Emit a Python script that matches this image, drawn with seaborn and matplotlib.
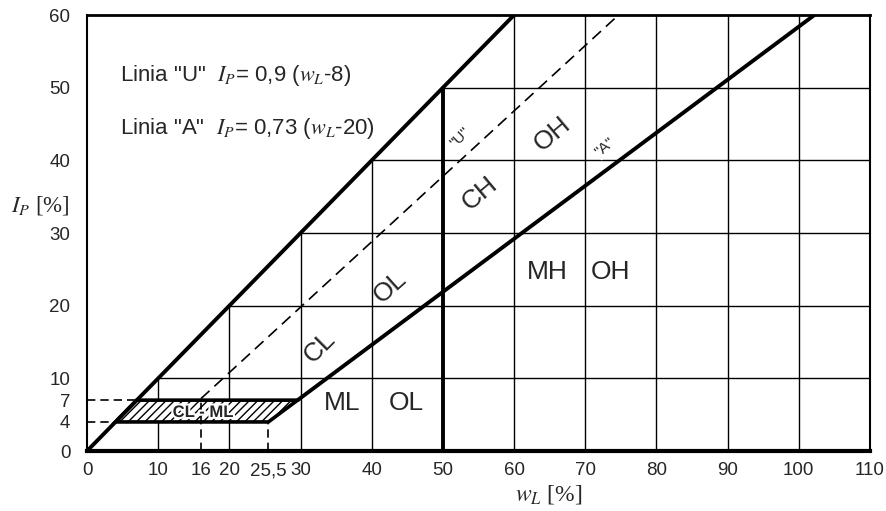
import matplotlib.pyplot as plt
import matplotlib.patheffects as pe
import numpy as np
import pandas as pd
import seaborn as sns

# axis ticks of the plasticity chart
x_ticks = [0, 10, 16, 20, 25.5, 30, 40, 50, 60, 70, 80, 90, 100, 110]
x_ticklabels = ['0', '10', '16', '20', '25,5', '30', '40', '50', '60', '70', '80', '90', '100', '110']
y_ticks = [0, 4, 7, 10, 20, 30, 40, 50, 60]
grid_x = [10, 20, 30, 40, 60, 70, 80, 90, 100]
grid_y = [10, 20, 30, 40, 50]

# chart definition
u_slope, u_shift = 0.9, 8     # line "U": Ip = 0.9 (wL - 8)
a_slope, a_shift = 0.73, 20   # line "A": Ip = 0.73 (wL - 20)
wl_border = 50                # low / high liquid limit
band_low, band_high = 4, 7    # CL-ML band
u_start = 16
x_max, y_max = 110, 60

# soil group labels
labels = ['CL', 'OL', 'CH', 'OH', 'ML', 'OL', 'MH', 'OH']
label_x = [32.7, 42.6, 55.2, 65.4, 35.8, 44.8, 64.6, 73.5]
label_y = [14.3, 22.6, 35.5, 43.7, 6.6, 6.6, 24.6, 24.6]
label_rot = [45, 42, 40, 40, 0, 0, 0, 0]

sns.set_style('white')
plt.rcParams['mathtext.fontset'] = 'stix'
plt.rcParams['font.family'] = ['Liberation Sans', 'DejaVu Sans']
plt.rcParams['hatch.linewidth'] = 1.0

fig = plt.figure(figsize=(8.87, 5.11), dpi=100)
ax = fig.add_axes([0.0981, 0.1174, 0.8827, 0.8532])

# grid, clipped to the region Ip <= wL
for gx in grid_x:
    ax.plot([gx, gx], [0, min(gx, y_max)], color='black', lw=1.0, zorder=1)
for gy in grid_y:
    ax.plot([gy, x_max], [gy, gy], color='black', lw=1.0, zorder=1)

# dashed helper lines
ax.plot([0, band_high], [band_high, band_high], color='black', lw=1.2, ls=(0, (5, 3)), zorder=1)
ax.plot([0, band_low], [band_low, band_low], color='black', lw=1.2, ls=(0, (5, 3)), zorder=1)
a_at_low = band_low / a_slope + a_shift
a_at_high = band_high / a_slope + a_shift
ax.plot([a_at_low, a_at_low], [0, band_low], color='black', lw=1.2, ls=(0, (5, 3)), zorder=1)
ax.plot([u_start, u_start], [0, band_high], color='black', lw=1.2, ls=(0, (5, 3)), zorder=3)

# CL-ML band
band_x = [band_low, a_at_low, a_at_high, band_high]
band_y = [band_low, band_low, band_high, band_high]
ax.fill(band_x, band_y, facecolor='white', edgecolor='black', hatch='////', lw=0, zorder=2)
ax.fill(band_x, band_y, facecolor='none', edgecolor='black', lw=2.6, zorder=3)

# main lines with seaborn
u_end = y_max / u_slope + u_shift
a_end = y_max / a_slope + a_shift
u_x = np.array([u_start, u_end])
u_line = pd.DataFrame({'wL': u_x, 'Ip': u_slope * (u_x - u_shift)})
sns.lineplot(data=u_line, x='wL', y='Ip', color='black', lw=1.2, ls=(0, (7, 4)),
             estimator=None, sort=False, ax=ax, zorder=3)

a_x = np.array([a_at_high, a_end])
a_line = pd.DataFrame({'wL': a_x, 'Ip': a_slope * (a_x - a_shift)})
sns.lineplot(data=a_line, x='wL', y='Ip', color='black', lw=2.8,
             estimator=None, sort=False, ax=ax, zorder=3)

limit = pd.DataFrame({'wL': [0, y_max], 'Ip': [0, y_max]})
sns.lineplot(data=limit, x='wL', y='Ip', color='black', lw=2.8,
             estimator=None, sort=False, ax=ax, zorder=3)

border = pd.DataFrame({'wL': [wl_border, wl_border], 'Ip': [0, wl_border]})
sns.lineplot(data=border, x='wL', y='Ip', color='black', lw=2.8,
             estimator=None, sort=False, ax=ax, zorder=3)

# labels
for lab, lx, ly, rot in zip(labels, label_x, label_y, label_rot):
    ax.text(lx, ly, lab, fontsize=19, rotation=rot, ha='center', va='center', zorder=4)
ax.text(16.3, 5.3, 'CL - ML', fontsize=12, fontweight='bold', ha='center', va='center', zorder=4,
        path_effects=[pe.withStroke(linewidth=3, foreground='white')])
ax.text(52.4, 43.2, '"U"', fontsize=11, rotation=45, ha='center', va='center', zorder=4,
        bbox=dict(facecolor='white', edgecolor='none', pad=0.5))
ax.text(72.8, 41.8, '"A"', fontsize=11, rotation=40, ha='center', va='center', zorder=4,
        bbox=dict(facecolor='white', edgecolor='none', pad=0.5))

ax.text(4.6, 51.7, 'Linia "U"  $I_P$= 0,9 ($w_L$-8)', fontsize=16, va='center', ha='left')
ax.text(4.6, 44.4, 'Linia "A"  $I_P$= 0,73 ($w_L$-20)', fontsize=16, va='center', ha='left')

ax.set_xlim(0, x_max)
ax.set_ylim(0, y_max)
ax.set_xticks(x_ticks)
ax.set_xticklabels(x_ticklabels)
ax.set_yticks(y_ticks)
ax.tick_params(axis='x', length=0, pad=8, labelsize=13.5)
ax.tick_params(axis='y', direction='in', length=7, width=1, pad=12, labelsize=13.5)
ax.set_xlabel('$w_L$ [%]', fontsize=17, family='Liberation Serif', va='center')
ax.set_ylabel('$I_P$ [%]', fontsize=16.5, family='Liberation Serif', rotation=0, va='center')
ax.xaxis.set_label_coords(0.59, -0.1)
ax.yaxis.set_label_coords(-0.06, 0.564)

for side in ['left', 'right']:
    ax.spines[side].set_linewidth(1.5)
ax.spines['top'].set_linewidth(2.0)
ax.spines['bottom'].set_linewidth(3.0)
for sp in ax.spines.values():
    sp.set_color('black')
    sp.set_zorder(5)

fig.savefig('out.png', dpi=100)
